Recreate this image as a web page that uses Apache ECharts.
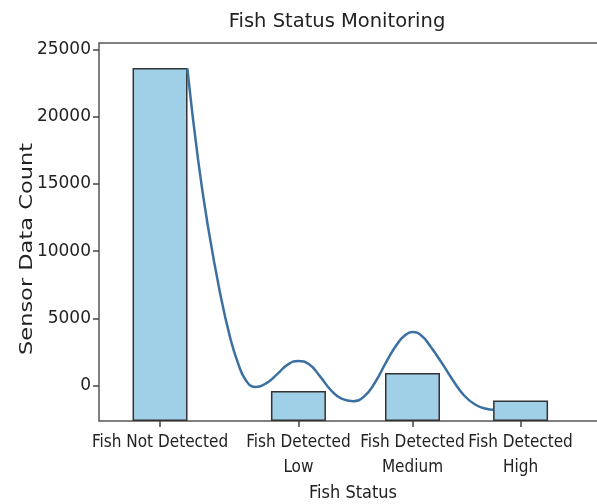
<!DOCTYPE html>
<html><head><meta charset="utf-8">
<script src="https://cdn.jsdelivr.net/npm/echarts@6/dist/echarts.min.js"></script>
<style>html,body{margin:0;padding:0;background:#fff}#c{width:597px;height:504px}</style>
</head><body><div id="c"></div>
<script>
const categories = ['Fish Not Detected', 'Fish Detected\nLow', 'Fish Detected\nMedium', 'Fish Detected\nHigh'];
const categoryPositions = [0, 1, 1.824, 2.605];
const counts = [23630, -425, 918, -1119];
const curveX = [0.197, 0.275, 0.347, 0.434, 0.506, 0.564, 0.621, 0.686, 0.766, 0.845, 0.925, 0.997, 1.077, 1.156, 1.236, 1.315, 1.395, 1.474, 1.553, 1.633, 1.712, 1.770, 1.823, 1.886, 1.958, 2.038, 2.117, 2.197, 2.276, 2.356, 2.406];
const curveY = [23630, 16790, 11790, 6870, 3580, 1640, 370, -110, 150, 820, 1570, 1810, 1570, 670, -370, -1010, -1170, -820, 220, 1720, 3060, 3730, 3980, 3730, 2840, 1640, 370, -750, -1420, -1740, -1810];
const yTicks = [0, 5000, 10000, 15000, 20000, 25000];
const yMin = -2650, yMax = 25500;
const xMin = -0.441, xMax = 3.251;

const chart = echarts.init(document.getElementById('c'), null, {renderer: 'canvas'});
const font = 'DejaVu Sans';
const condensed = '"DejaVu Sans Condensed", "DejaVu Sans"';
function nearestIndex(v) {
  let best = 0;
  categoryPositions.forEach((p, i) => { if (Math.abs(p - v) < Math.abs(categoryPositions[best] - v)) best = i; });
  return best;
}
chart.setOption({
  animation: false,
  backgroundColor: '#fff',
  grid: {left: 99, top: 43, right: -13, bottom: 83, outerBoundsMode: 'none', containLabel: false,
         show: true, borderColor: '#555', borderWidth: 1.5},
  xAxis: {
    type: 'value', min: xMin, max: xMax,
    axisLine: {show: false, onZero: false}, splitLine: {show: false},
    axisTick: {show: true, customValues: categoryPositions, length: 6, lineStyle: {color: '#444', width: 1.5}},
    axisLabel: {customValues: categoryPositions, formatter: v => categories[nearestIndex(v)],
      fontSize: 17, fontFamily: condensed, color: '#222', lineHeight: 25, margin: 9}
  },
  yAxis: [{
    type: 'value', min: yMin, max: yMax,
    axisLine: {show: false, onZero: false}, splitLine: {show: false},
    axisTick: {show: true, customValues: yTicks, length: 6, lineStyle: {color: '#444', width: 1.5}},
    axisLabel: {customValues: yTicks, formatter: v => String(v), fontSize: 17, fontFamily: font, color: '#222', margin: 8}
  }, {
    // same scale as the visible axis, measured from its bottom edge (bars rise from the axis floor)
    type: 'value', min: 0, max: yMax - yMin, show: false
  }],
  series: [
    {type: 'bar', yAxisIndex: 1, barWidth: 55,
     itemStyle: {color: '#a0d0e8', borderColor: '#333', borderWidth: 1.5},
     data: categoryPositions.map((x, i) => [x, counts[i] - yMin])},
    {type: 'line', yAxisIndex: 0, smooth: 0.5, showSymbol: false, z: 5,
     lineStyle: {color: '#3b70a0', width: 2.5},
     data: curveX.map((x, i) => [x, curveY[i]])}
  ],
  graphic: [
    {type: 'text', x: 337, y: 22, style: {text: 'Fish Status Monitoring', fontSize: 19.5, fontFamily: font, fill: '#222', align: 'center', verticalAlign: 'middle'}},
    {type: 'text', x: 353, y: 493, style: {text: 'Fish Status', fontSize: 18, fontFamily: condensed, fill: '#222', align: 'center', verticalAlign: 'middle'}},
    {type: 'text', x: 27, y: 249, rotation: Math.PI / 2, scaleX: 1.25, style: {text: 'Sensor Data Count', fontSize: 18, fontFamily: font, fill: '#222', align: 'center', verticalAlign: 'middle'}}
  ]
});
</script>
</body></html>
